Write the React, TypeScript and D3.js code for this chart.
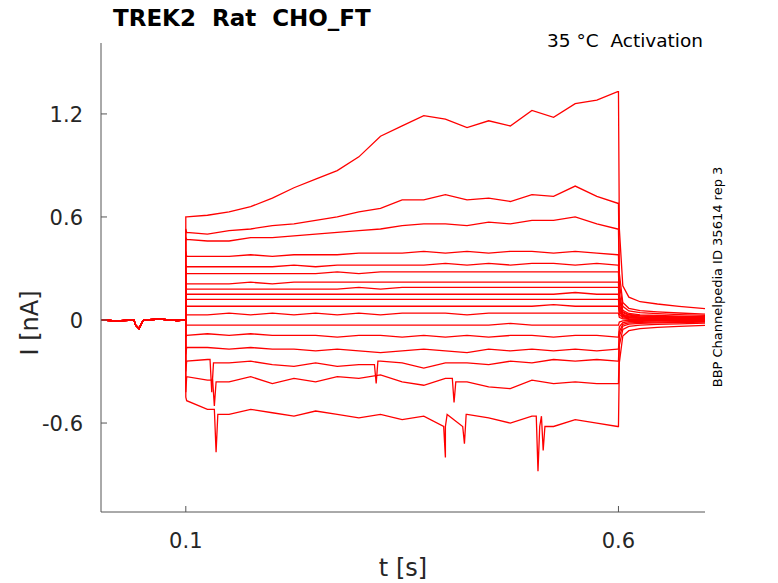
import * as d3 from "d3";

const W = 778;
const H = 583;
const M = { left: 101, right: 73, top: 43, bottom: 71 };

const X_TICKS = [0.1, 0.6];
const Y_TICKS = [-0.6, 0, 0.6, 1.2];

// pre-step baseline (shared by all sweeps)
const PRE_T = [0.002, 0.02, 0.04, 0.042, 0.046, 0.05, 0.052, 0.07, 0.09, 0.1];
const PRE_V = [0, -0.005, 0.0, -0.03, -0.05, -0.01, 0.0, 0.005, -0.003, 0];

// step samples
const STEP_T = [0.1, 0.101, 0.125, 0.15, 0.175, 0.2, 0.225, 0.25, 0.275, 0.3, 0.325, 0.35, 0.375, 0.4, 0.425, 0.45, 0.475, 0.5, 0.525, 0.55, 0.575, 0.599];

const STEPS: number[][] = [
  [0.6, 0.6, 0.61, 0.63, 0.66, 0.71, 0.77, 0.82, 0.87, 0.95, 1.07, 1.13, 1.19, 1.17, 1.12, 1.16, 1.13, 1.22, 1.18, 1.26, 1.28, 1.33],
  [0.53, 0.51, 0.5, 0.52, 0.53, 0.55, 0.56, 0.58, 0.6, 0.63, 0.65, 0.7, 0.7, 0.73, 0.7, 0.71, 0.69, 0.73, 0.72, 0.78, 0.72, 0.68],
  [0.48, 0.47, 0.46, 0.46, 0.48, 0.48, 0.49, 0.5, 0.51, 0.52, 0.53, 0.55, 0.56, 0.56, 0.55, 0.57, 0.56, 0.58, 0.58, 0.6, 0.56, 0.53],
  [0.4, 0.37, 0.37, 0.37, 0.38, 0.37, 0.38, 0.38, 0.38, 0.39, 0.39, 0.39, 0.4, 0.39, 0.4, 0.39, 0.4, 0.4, 0.39, 0.4, 0.39, 0.38],
  [0.32, 0.31, 0.31, 0.31, 0.31, 0.31, 0.32, 0.31, 0.32, 0.32, 0.32, 0.32, 0.32, 0.33, 0.32, 0.33, 0.32, 0.33, 0.33, 0.32, 0.33, 0.32],
  [0.28, 0.27, 0.27, 0.27, 0.27, 0.27, 0.27, 0.27, 0.28, 0.27, 0.28, 0.28, 0.28, 0.28, 0.28, 0.28, 0.28, 0.28, 0.28, 0.28, 0.28, 0.28],
  [0.22, 0.21, 0.21, 0.21, 0.22, 0.21, 0.22, 0.22, 0.22, 0.22, 0.22, 0.22, 0.22, 0.22, 0.22, 0.22, 0.22, 0.22, 0.22, 0.22, 0.22, 0.22],
  [0.19, 0.18, 0.18, 0.18, 0.18, 0.18, 0.18, 0.18, 0.18, 0.19, 0.18, 0.19, 0.19, 0.19, 0.19, 0.19, 0.19, 0.19, 0.19, 0.19, 0.19, 0.19],
  [0.16, 0.15, 0.15, 0.15, 0.15, 0.15, 0.15, 0.15, 0.15, 0.15, 0.15, 0.15, 0.15, 0.15, 0.15, 0.15, 0.15, 0.15, 0.15, 0.16, 0.15, 0.15],
  [0.12, 0.12, 0.12, 0.12, 0.12, 0.12, 0.12, 0.12, 0.12, 0.12, 0.12, 0.12, 0.12, 0.12, 0.12, 0.12, 0.12, 0.12, 0.12, 0.12, 0.12, 0.12],
  [0.08, 0.08, 0.08, 0.08, 0.08, 0.08, 0.08, 0.08, 0.08, 0.08, 0.08, 0.08, 0.08, 0.08, 0.08, 0.08, 0.08, 0.08, 0.09, 0.08, 0.08, 0.08],
  [0.03, 0.03, 0.03, 0.04, 0.03, 0.04, 0.03, 0.04, 0.03, 0.04, 0.03, 0.04, 0.04, 0.04, 0.03, 0.04, 0.04, 0.04, 0.04, 0.04, 0.04, 0.04],
  [-0.04, -0.03, -0.03, -0.03, -0.03, -0.03, -0.03, -0.03, -0.03, -0.03, -0.03, -0.03, -0.03, -0.03, -0.03, -0.03, -0.02, -0.03, -0.03, -0.03, -0.03, -0.03],
  [-0.1, -0.09, -0.08, -0.09, -0.08, -0.09, -0.09, -0.09, -0.1, -0.09, -0.09, -0.1, -0.09, -0.1, -0.09, -0.1, -0.09, -0.09, -0.1, -0.09, -0.09, -0.1],
  [-0.2, -0.16, -0.16, -0.17, -0.16, -0.17, -0.17, -0.18, -0.17, -0.18, -0.19, -0.18, -0.17, -0.18, -0.19, -0.17, -0.18, -0.17, -0.18, -0.17, -0.18, -0.17],
  [-0.3, -0.24, -0.23, -0.25, -0.24, -0.26, -0.27, -0.25, -0.27, -0.26, -0.24, -0.25, -0.28, -0.25, -0.25, -0.26, -0.24, -0.25, -0.23, -0.24, -0.23, -0.24],
  [-0.42, -0.33, -0.35, -0.36, -0.33, -0.37, -0.34, -0.36, -0.33, -0.34, -0.32, -0.36, -0.38, -0.34, -0.36, -0.39, -0.4, -0.35, -0.37, -0.36, -0.37, -0.37],
  [-0.45, -0.47, -0.52, -0.55, -0.52, -0.54, -0.56, -0.53, -0.55, -0.57, -0.55, -0.58, -0.56, -0.62, -0.55, -0.57, -0.6, -0.56, -0.62, -0.58, -0.6, -0.62],
];

// spikes drawn on individual sweeps: [sweep, t, value]
const SPIKES: [number, number, number][] = [
  [17, 0.135, -0.77],
  [17, 0.4, -0.8],
  [17, 0.422, -0.72],
  [17, 0.507, -0.88],
  [17, 0.513, -0.76],
  [16, 0.133, -0.5],
  [16, 0.41, -0.48],
  [15, 0.13, -0.42],
  [15, 0.32, -0.37],
];

// after step: fast drop, small residual to the end
const TAIL_T = [0.6, 0.601, 0.605, 0.612, 0.625, 0.645, 0.67, 0.7];
const TAIL_FRAC = [1, 0.4, 0.15, 0.1, 0.08, 0.07, 0.06, 0.05];

const NB = "\u00a0";

export default function App() {
  const x = d3.scaleLinear().domain([0.002, 0.7]).range([M.left, W - M.right]);
  const y = d3.scaleLinear().domain([-1.118, 1.613]).range([H - M.bottom, M.top]);
  const line = d3
    .line<[number, number]>()
    .x((d) => x(d[0]))
    .y((d) => y(d[1]));

  const paths = STEPS.map((vals, i) => {
    const pts: [number, number][] = PRE_T.map((t, j) => [t, PRE_V[j]]);
    const step: [number, number][] = STEP_T.map((t, j) => [t, vals[j]]);
    SPIKES.filter((s) => s[0] === i).forEach((s) => {
      const k = STEP_T.findIndex((t) => t > s[1]);
      step.splice(k, 0, [s[1] - 0.002, vals[k - 1]], [s[1], s[2]], [s[1] + 0.002, vals[k]]);
      step.sort((a, b) => a[0] - b[0]);
    });
    const last = vals[vals.length - 1];
    const tail: [number, number][] = TAIL_T.map((t, j) => [t, last * TAIL_FRAC[j]]);
    return line([...pts, ...step, ...tail]) ?? "";
  });

  const font = "DejaVu Sans, sans-serif";
  return (
    <svg width={W} height={H} style={{ position: "absolute", left: 0, top: 0, background: "#fff" }}>
      <g fill="none" stroke="#ff0000" strokeWidth={1.3}>
        {paths.map((d, i) => (
          <path key={i} d={d} />
        ))}
      </g>
      <line x1={M.left} x2={M.left} y1={M.top} y2={H - M.bottom} stroke="#555" />
      <line x1={M.left} x2={W - M.right} y1={H - M.bottom} y2={H - M.bottom} stroke="#555" />
      {X_TICKS.map((t) => (
        <g key={t}>
          <line x1={x(t)} x2={x(t)} y1={H - M.bottom} y2={H - M.bottom - 6} stroke="#555" />
          <text x={x(t)} y={H - M.bottom + 36} textAnchor="middle" fontSize={21} fontFamily={font} fill="#262626">
            {t}
          </text>
        </g>
      ))}
      {Y_TICKS.map((t) => (
        <g key={t}>
          <line x1={M.left} x2={M.left + 6} y1={y(t)} y2={y(t)} stroke="#555" />
          <text x={M.left - 18} y={y(t) + 8} textAnchor="end" fontSize={21} fontFamily={font} fill="#262626">
            {t}
          </text>
        </g>
      ))}
      <text x={403} y={576} textAnchor="middle" fontSize={24} fontFamily={font} fill="#262626">t [s]</text>
      <text transform={`translate(38,${y(0) + 3}) rotate(-90)`} textAnchor="middle" fontSize={24} fontFamily={font} fill="#262626">I [nA]</text>
      <text x={113} y={26} fontSize={23} fontWeight="bold" fontFamily={font} fill="#000">{`TREK2 ${NB}Rat ${NB}CHO_FT`}</text>
      <text x={703} y={47} textAnchor="end" fontSize={18.5} fontFamily={font} fill="#000">{`35 °C ${NB}Activation`}</text>
      <text transform="translate(722,277) rotate(-90)" textAnchor="middle" fontSize={13} fontFamily={font} fill="#000">BBP Channelpedia ID 35614 rep 3</text>
    </svg>
  );
}
